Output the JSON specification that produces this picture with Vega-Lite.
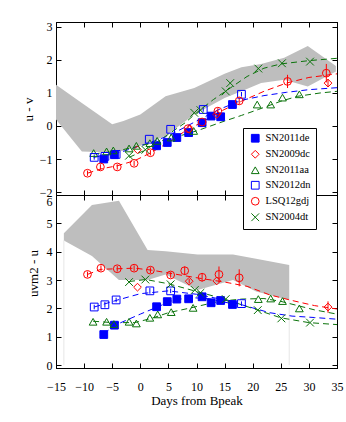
{
  "$schema": "https://vega.github.io/schema/vega-lite/v6.json",
  "autosize": {"type": "pad"},
  "padding": {"left": 21, "top": 20, "right": 10, "bottom": 5},
  "background": "white",
  "spacing": 0,
  "bounds": "flush",
  "config": {
    "font": "Liberation Serif, Times New Roman, serif",
    "view": {"stroke": "black", "strokeWidth": 1},
    "axis": {
      "grid": false, "labelFont": "Liberation Serif, Times New Roman, serif", "titleFont": "Liberation Serif, Times New Roman, serif",
      "labelFontSize": 12, "titleFontSize": 13, "titleFontWeight": "normal",
      "labelColor": "black", "titleColor": "black", "domainColor": "black", "tickColor": "black",
      "tickSize": -5, "labelOverlap": false, "labelFlush": false, "labelBound": false
    },
    "legend": {"labelFont": "Liberation Serif, Times New Roman, serif"}
  },
  "resolve": {"scale": {"x": "independent", "y": "independent", "color": "shared", "shape": "shared", "fill": "shared", "stroke": "shared"}},
  "datasets": {
    "band": [
      {"p": "t", "x": -15, "lo": 0.2, "hi": 1.25},
      {"p": "t", "x": -10.4, "lo": -0.77, "hi": 0.7},
      {"p": "t", "x": -5, "lo": -0.8, "hi": 0.05},
      {"p": "t", "x": -3, "lo": -0.75, "hi": 0.15},
      {"p": "t", "x": 0, "lo": -0.6, "hi": 0.35},
      {"p": "t", "x": 4.5, "lo": -0.3, "hi": 0.9},
      {"p": "t", "x": 9.6, "lo": 0.35, "hi": 1.15},
      {"p": "t", "x": 15, "lo": 0.85, "hi": 1.58},
      {"p": "t", "x": 18, "lo": 1.05, "hi": 1.78},
      {"p": "t", "x": 21.5, "lo": 1.3, "hi": 1.88},
      {"p": "t", "x": 25.6, "lo": 1.4, "hi": 2.07},
      {"p": "t", "x": 29.8, "lo": 1.2, "hi": 2.42},
      {"p": "t", "x": 34.8, "lo": 1.65, "hi": 1.82},
      {"p": "b", "x": -13.6, "lo": 4.4, "hi": 4.65},
      {"p": "b", "x": -8.6, "lo": 3.85, "hi": 5.65},
      {"p": "b", "x": -3.8, "lo": 3.0, "hi": 5.8},
      {"p": "b", "x": 1.3, "lo": 3.0, "hi": 4.06},
      {"p": "b", "x": 4.5, "lo": 3.2, "hi": 4.02},
      {"p": "b", "x": 10.2, "lo": 2.65, "hi": 3.9},
      {"p": "b", "x": 16.5, "lo": 3.0, "hi": 3.9},
      {"p": "b", "x": 20.6, "lo": 2.6, "hi": 3.75},
      {"p": "b", "x": 26.5, "lo": 2.3, "hi": 3.53}
    ],
    "vl": [
      {"p": "b", "x": -13.6, "lo": 0, "hi": 4.4},
      {"p": "b", "x": 26.5, "lo": 0, "hi": 2.3}
    ],
    "fits": [
      {"p": "t", "sn": "LSQ12gdj", "x": -9.4, "y": -1.43},
      {"p": "t", "sn": "LSQ12gdj", "x": -7, "y": -1.3},
      {"p": "t", "sn": "LSQ12gdj", "x": -4, "y": -1.2},
      {"p": "t", "sn": "LSQ12gdj", "x": -1, "y": -1.05},
      {"p": "t", "sn": "LSQ12gdj", "x": 2, "y": -0.8},
      {"p": "t", "sn": "LSQ12gdj", "x": 5, "y": -0.5},
      {"p": "t", "sn": "LSQ12gdj", "x": 8, "y": -0.15},
      {"p": "t", "sn": "LSQ12gdj", "x": 11, "y": 0.12},
      {"p": "t", "sn": "LSQ12gdj", "x": 14, "y": 0.42},
      {"p": "t", "sn": "LSQ12gdj", "x": 18, "y": 0.75},
      {"p": "t", "sn": "LSQ12gdj", "x": 22, "y": 1.05},
      {"p": "t", "sn": "LSQ12gdj", "x": 26, "y": 1.3},
      {"p": "t", "sn": "LSQ12gdj", "x": 30, "y": 1.47},
      {"p": "t", "sn": "LSQ12gdj", "x": 35, "y": 1.58},
      {"p": "t", "sn": "SN2012dn", "x": -8.3, "y": -0.95},
      {"p": "t", "sn": "SN2012dn", "x": -4, "y": -0.82},
      {"p": "t", "sn": "SN2012dn", "x": 0, "y": -0.6},
      {"p": "t", "sn": "SN2012dn", "x": 5, "y": -0.3},
      {"p": "t", "sn": "SN2012dn", "x": 10, "y": 0.15},
      {"p": "t", "sn": "SN2012dn", "x": 14, "y": 0.5},
      {"p": "t", "sn": "SN2012dn", "x": 18, "y": 0.78},
      {"p": "t", "sn": "SN2012dn", "x": 22, "y": 0.92},
      {"p": "t", "sn": "SN2012dn", "x": 26, "y": 1.02},
      {"p": "t", "sn": "SN2012dn", "x": 30, "y": 1.1},
      {"p": "t", "sn": "SN2012dn", "x": 35, "y": 1.16},
      {"p": "t", "sn": "SN2004dt", "x": -2, "y": -0.95},
      {"p": "t", "sn": "SN2004dt", "x": 1, "y": -0.72},
      {"p": "t", "sn": "SN2004dt", "x": 5, "y": -0.25},
      {"p": "t", "sn": "SN2004dt", "x": 8, "y": 0.1},
      {"p": "t", "sn": "SN2004dt", "x": 10, "y": 0.4},
      {"p": "t", "sn": "SN2004dt", "x": 13, "y": 0.8},
      {"p": "t", "sn": "SN2004dt", "x": 16, "y": 1.15},
      {"p": "t", "sn": "SN2004dt", "x": 19, "y": 1.5},
      {"p": "t", "sn": "SN2004dt", "x": 22, "y": 1.75},
      {"p": "t", "sn": "SN2004dt", "x": 25, "y": 1.88},
      {"p": "t", "sn": "SN2004dt", "x": 30, "y": 1.98},
      {"p": "t", "sn": "SN2004dt", "x": 35, "y": 2.05},
      {"p": "t", "sn": "SN2011aa", "x": -8.3, "y": -0.85},
      {"p": "t", "sn": "SN2011aa", "x": -4, "y": -0.75},
      {"p": "t", "sn": "SN2011aa", "x": 0, "y": -0.6},
      {"p": "t", "sn": "SN2011aa", "x": 5, "y": -0.4},
      {"p": "t", "sn": "SN2011aa", "x": 10, "y": -0.15},
      {"p": "t", "sn": "SN2011aa", "x": 15, "y": 0.15},
      {"p": "t", "sn": "SN2011aa", "x": 18, "y": 0.32},
      {"p": "t", "sn": "SN2011aa", "x": 21, "y": 0.5},
      {"p": "t", "sn": "SN2011aa", "x": 25, "y": 0.75},
      {"p": "t", "sn": "SN2011aa", "x": 28, "y": 0.9},
      {"p": "t", "sn": "SN2011aa", "x": 32, "y": 1.0},
      {"p": "t", "sn": "SN2011aa", "x": 35, "y": 1.05},
      {"p": "b", "sn": "LSQ12gdj", "x": -9.4, "y": 3.2},
      {"p": "b", "sn": "LSQ12gdj", "x": -7, "y": 3.38},
      {"p": "b", "sn": "LSQ12gdj", "x": -4, "y": 3.4},
      {"p": "b", "sn": "LSQ12gdj", "x": -1, "y": 3.42},
      {"p": "b", "sn": "LSQ12gdj", "x": 2, "y": 3.35},
      {"p": "b", "sn": "LSQ12gdj", "x": 5, "y": 3.25},
      {"p": "b", "sn": "LSQ12gdj", "x": 8, "y": 3.15},
      {"p": "b", "sn": "LSQ12gdj", "x": 11, "y": 3.05},
      {"p": "b", "sn": "LSQ12gdj", "x": 15, "y": 2.93},
      {"p": "b", "sn": "LSQ12gdj", "x": 19, "y": 2.78},
      {"p": "b", "sn": "LSQ12gdj", "x": 23, "y": 2.48},
      {"p": "b", "sn": "LSQ12gdj", "x": 27, "y": 2.28},
      {"p": "b", "sn": "LSQ12gdj", "x": 31, "y": 2.1},
      {"p": "b", "sn": "LSQ12gdj", "x": 35, "y": 1.98},
      {"p": "b", "sn": "SN2012dn", "x": -8.2, "y": 2.05},
      {"p": "b", "sn": "SN2012dn", "x": -4, "y": 2.3},
      {"p": "b", "sn": "SN2012dn", "x": 0, "y": 2.52},
      {"p": "b", "sn": "SN2012dn", "x": 5, "y": 2.62},
      {"p": "b", "sn": "SN2012dn", "x": 10, "y": 2.5},
      {"p": "b", "sn": "SN2012dn", "x": 15, "y": 2.3},
      {"p": "b", "sn": "SN2012dn", "x": 20, "y": 2.02},
      {"p": "b", "sn": "SN2012dn", "x": 23, "y": 1.85},
      {"p": "b", "sn": "SN2012dn", "x": 27, "y": 1.73},
      {"p": "b", "sn": "SN2012dn", "x": 31, "y": 1.68},
      {"p": "b", "sn": "SN2012dn", "x": 35, "y": 1.62},
      {"p": "b", "sn": "SN2011de", "x": -6.5, "y": 1.1},
      {"p": "b", "sn": "SN2011de", "x": -4.6, "y": 1.4},
      {"p": "b", "sn": "SN2011de", "x": 0, "y": 1.8},
      {"p": "b", "sn": "SN2011de", "x": 3, "y": 2.05},
      {"p": "b", "sn": "SN2011de", "x": 6, "y": 2.3},
      {"p": "b", "sn": "SN2011de", "x": 9, "y": 2.38},
      {"p": "b", "sn": "SN2011de", "x": 12, "y": 2.35},
      {"p": "b", "sn": "SN2011de", "x": 15, "y": 2.22},
      {"p": "b", "sn": "SN2011de", "x": 17, "y": 2.15},
      {"p": "b", "sn": "SN2011aa", "x": -8.4, "y": 1.55},
      {"p": "b", "sn": "SN2011aa", "x": -5, "y": 1.5},
      {"p": "b", "sn": "SN2011aa", "x": -1, "y": 1.5},
      {"p": "b", "sn": "SN2011aa", "x": 2, "y": 1.65},
      {"p": "b", "sn": "SN2011aa", "x": 5, "y": 1.85},
      {"p": "b", "sn": "SN2011aa", "x": 9, "y": 2.02},
      {"p": "b", "sn": "SN2011aa", "x": 14, "y": 2.25},
      {"p": "b", "sn": "SN2011aa", "x": 18, "y": 2.33},
      {"p": "b", "sn": "SN2011aa", "x": 22, "y": 2.35},
      {"p": "b", "sn": "SN2011aa", "x": 25, "y": 2.25},
      {"p": "b", "sn": "SN2011aa", "x": 28, "y": 2.1},
      {"p": "b", "sn": "SN2011aa", "x": 31, "y": 1.95},
      {"p": "b", "sn": "SN2011aa", "x": 35, "y": 1.8},
      {"p": "b", "sn": "SN2004dt", "x": -2, "y": 2.95},
      {"p": "b", "sn": "SN2004dt", "x": 1, "y": 3.02},
      {"p": "b", "sn": "SN2004dt", "x": 5, "y": 2.87},
      {"p": "b", "sn": "SN2004dt", "x": 10, "y": 2.6},
      {"p": "b", "sn": "SN2004dt", "x": 15, "y": 2.33},
      {"p": "b", "sn": "SN2004dt", "x": 20, "y": 2.0},
      {"p": "b", "sn": "SN2004dt", "x": 25, "y": 1.67},
      {"p": "b", "sn": "SN2004dt", "x": 30, "y": 1.5},
      {"p": "b", "sn": "SN2004dt", "x": 35, "y": 1.43}
    ],
    "errs": [
      {"p": "t", "sn": "LSQ12gdj", "x": -9.4, "lo": -1.51, "hi": -1.35},
      {"p": "t", "sn": "LSQ12gdj", "x": -7.1, "lo": -1.32, "hi": -1.16},
      {"p": "t", "sn": "LSQ12gdj", "x": -4.1, "lo": -1.32, "hi": -1.16},
      {"p": "t", "sn": "LSQ12gdj", "x": -1.1, "lo": -1.21, "hi": -1.05},
      {"p": "t", "sn": "LSQ12gdj", "x": 1.8, "lo": -0.89, "hi": -0.73},
      {"p": "t", "sn": "LSQ12gdj", "x": 8.5, "lo": -0.16, "hi": 0.0},
      {"p": "t", "sn": "LSQ12gdj", "x": 11, "lo": 0.04, "hi": 0.2},
      {"p": "t", "sn": "LSQ12gdj", "x": 13.8, "lo": 0.36, "hi": 0.54},
      {"p": "t", "sn": "LSQ12gdj", "x": 17.6, "lo": 0.66, "hi": 0.86},
      {"p": "t", "sn": "LSQ12gdj", "x": 26.2, "lo": 1.15, "hi": 1.55},
      {"p": "t", "sn": "LSQ12gdj", "x": 33.1, "lo": 1.32, "hi": 1.88},
      {"p": "t", "sn": "SN2009dc", "x": 33.4, "lo": 1.18, "hi": 1.42},
      {"p": "t", "sn": "SN2012dn", "x": -8.2, "lo": -1.02, "hi": -0.88},
      {"p": "t", "sn": "SN2012dn", "x": 11.2, "lo": 0.43, "hi": 0.57},
      {"p": "t", "sn": "SN2012dn", "x": 18, "lo": 0.89, "hi": 1.03},
      {"p": "b", "sn": "LSQ12gdj", "x": -9.4, "lo": 3.1, "hi": 3.3},
      {"p": "b", "sn": "LSQ12gdj", "x": -7, "lo": 3.32, "hi": 3.52},
      {"p": "b", "sn": "LSQ12gdj", "x": -4.1, "lo": 3.3, "hi": 3.5},
      {"p": "b", "sn": "LSQ12gdj", "x": -1.1, "lo": 3.32, "hi": 3.52},
      {"p": "b", "sn": "LSQ12gdj", "x": 1.8, "lo": 3.25, "hi": 3.45},
      {"p": "b", "sn": "LSQ12gdj", "x": 5.4, "lo": 3.08, "hi": 3.28},
      {"p": "b", "sn": "LSQ12gdj", "x": 7.9, "lo": 3.18, "hi": 3.48},
      {"p": "b", "sn": "LSQ12gdj", "x": 11, "lo": 2.95, "hi": 3.25},
      {"p": "b", "sn": "LSQ12gdj", "x": 14, "lo": 2.92, "hi": 3.48},
      {"p": "b", "sn": "LSQ12gdj", "x": 17.6, "lo": 2.78, "hi": 3.38},
      {"p": "b", "sn": "SN2009dc", "x": 33.4, "lo": 1.85, "hi": 2.25},
      {"p": "b", "sn": "SN2009dc", "x": 8.7, "lo": 2.88, "hi": 3.04},
      {"p": "b", "sn": "SN2012dn", "x": -8.2, "lo": 1.97, "hi": 2.13},
      {"p": "b", "sn": "SN2012dn", "x": -6.3, "lo": 2.03, "hi": 2.23},
      {"p": "b", "sn": "SN2012dn", "x": -4.3, "lo": 2.22, "hi": 2.38},
      {"p": "b", "sn": "SN2012dn", "x": 1.7, "lo": 2.52, "hi": 2.72},
      {"p": "b", "sn": "SN2012dn", "x": 5.4, "lo": 2.54, "hi": 2.7},
      {"p": "b", "sn": "SN2012dn", "x": 18, "lo": 2.09, "hi": 2.25}
    ],
    "pts": [
      {"p": "t", "sn": "SN2011de", "x": -6.5, "y": -1.0},
      {"p": "t", "sn": "SN2011de", "x": -4.6, "y": -0.87},
      {"p": "t", "sn": "SN2011de", "x": 2.9, "y": -0.6},
      {"p": "t", "sn": "SN2011de", "x": 4.8, "y": -0.5},
      {"p": "t", "sn": "SN2011de", "x": 6.5, "y": -0.35},
      {"p": "t", "sn": "SN2011de", "x": 8.6, "y": -0.2},
      {"p": "t", "sn": "SN2011de", "x": 11, "y": 0.1},
      {"p": "t", "sn": "SN2011de", "x": 12.6, "y": 0.3},
      {"p": "t", "sn": "SN2011de", "x": 14.3, "y": 0.28},
      {"p": "t", "sn": "SN2011de", "x": 16.4, "y": 0.65},
      {"p": "t", "sn": "SN2009dc", "x": -0.5, "y": -0.72},
      {"p": "t", "sn": "SN2009dc", "x": 8.7, "y": -0.1},
      {"p": "t", "sn": "SN2009dc", "x": 13.6, "y": 0.35},
      {"p": "t", "sn": "SN2009dc", "x": 33.4, "y": 1.3},
      {"p": "t", "sn": "SN2011aa", "x": -8.3, "y": -0.82},
      {"p": "t", "sn": "SN2011aa", "x": -6, "y": -0.77},
      {"p": "t", "sn": "SN2011aa", "x": -4.8, "y": -0.74},
      {"p": "t", "sn": "SN2011aa", "x": -2, "y": -0.68},
      {"p": "t", "sn": "SN2011aa", "x": -0.7, "y": -0.6},
      {"p": "t", "sn": "SN2011aa", "x": 1.7, "y": -0.52},
      {"p": "t", "sn": "SN2011aa", "x": 3, "y": -0.45},
      {"p": "t", "sn": "SN2011aa", "x": 5.5, "y": -0.35},
      {"p": "t", "sn": "SN2011aa", "x": 9.5, "y": -0.15},
      {"p": "t", "sn": "SN2011aa", "x": 20.8, "y": 0.65},
      {"p": "t", "sn": "SN2011aa", "x": 23.2, "y": 0.65},
      {"p": "t", "sn": "SN2011aa", "x": 25.3, "y": 0.86},
      {"p": "t", "sn": "SN2011aa", "x": 28.3, "y": 0.96},
      {"p": "t", "sn": "SN2012dn", "x": -8.2, "y": -0.95},
      {"p": "t", "sn": "SN2012dn", "x": -6.3, "y": -0.92},
      {"p": "t", "sn": "SN2012dn", "x": -4.3, "y": -0.86},
      {"p": "t", "sn": "SN2012dn", "x": 1.6, "y": -0.4},
      {"p": "t", "sn": "SN2012dn", "x": 5.4, "y": -0.1},
      {"p": "t", "sn": "SN2012dn", "x": 11.2, "y": 0.5},
      {"p": "t", "sn": "SN2012dn", "x": 18, "y": 0.96},
      {"p": "t", "sn": "LSQ12gdj", "x": -9.4, "y": -1.43},
      {"p": "t", "sn": "LSQ12gdj", "x": -7.1, "y": -1.24},
      {"p": "t", "sn": "LSQ12gdj", "x": -4.1, "y": -1.24},
      {"p": "t", "sn": "LSQ12gdj", "x": -1.1, "y": -1.13},
      {"p": "t", "sn": "LSQ12gdj", "x": 1.8, "y": -0.81},
      {"p": "t", "sn": "LSQ12gdj", "x": 8.5, "y": -0.08},
      {"p": "t", "sn": "LSQ12gdj", "x": 11, "y": 0.12},
      {"p": "t", "sn": "LSQ12gdj", "x": 13.8, "y": 0.45},
      {"p": "t", "sn": "LSQ12gdj", "x": 17.6, "y": 0.76},
      {"p": "t", "sn": "LSQ12gdj", "x": 26.2, "y": 1.35},
      {"p": "t", "sn": "LSQ12gdj", "x": 33.1, "y": 1.6},
      {"p": "t", "sn": "SN2004dt", "x": -2, "y": -0.9},
      {"p": "t", "sn": "SN2004dt", "x": 0.9, "y": -0.72},
      {"p": "t", "sn": "SN2004dt", "x": 9.6, "y": 0.4},
      {"p": "t", "sn": "SN2004dt", "x": 10.7, "y": 0.48},
      {"p": "t", "sn": "SN2004dt", "x": 15.2, "y": 1.05},
      {"p": "t", "sn": "SN2004dt", "x": 16, "y": 1.3},
      {"p": "t", "sn": "SN2004dt", "x": 21, "y": 1.74},
      {"p": "t", "sn": "SN2004dt", "x": 25.2, "y": 1.9},
      {"p": "t", "sn": "SN2004dt", "x": 30.2, "y": 1.95},
      {"p": "b", "sn": "SN2011de", "x": -6.5, "y": 1.08},
      {"p": "b", "sn": "SN2011de", "x": -4.6, "y": 1.41},
      {"p": "b", "sn": "SN2011de", "x": 2.9, "y": 2.06},
      {"p": "b", "sn": "SN2011de", "x": 4.8, "y": 2.24},
      {"p": "b", "sn": "SN2011de", "x": 6.5, "y": 2.33},
      {"p": "b", "sn": "SN2011de", "x": 8.6, "y": 2.34},
      {"p": "b", "sn": "SN2011de", "x": 11, "y": 2.41},
      {"p": "b", "sn": "SN2011de", "x": 12.6, "y": 2.2},
      {"p": "b", "sn": "SN2011de", "x": 14.3, "y": 2.28},
      {"p": "b", "sn": "SN2011de", "x": 16.4, "y": 2.14},
      {"p": "b", "sn": "SN2009dc", "x": -0.5, "y": 2.75},
      {"p": "b", "sn": "SN2009dc", "x": 8.7, "y": 2.96},
      {"p": "b", "sn": "SN2009dc", "x": 13.6, "y": 2.97},
      {"p": "b", "sn": "SN2009dc", "x": 33.4, "y": 2.05},
      {"p": "b", "sn": "SN2011aa", "x": -8.4, "y": 1.53},
      {"p": "b", "sn": "SN2011aa", "x": -6, "y": 1.53},
      {"p": "b", "sn": "SN2011aa", "x": -4.7, "y": 1.45},
      {"p": "b", "sn": "SN2011aa", "x": -2, "y": 1.53},
      {"p": "b", "sn": "SN2011aa", "x": -0.7, "y": 1.47},
      {"p": "b", "sn": "SN2011aa", "x": 1.7, "y": 1.67},
      {"p": "b", "sn": "SN2011aa", "x": 3.1, "y": 1.79},
      {"p": "b", "sn": "SN2011aa", "x": 5.5, "y": 1.87},
      {"p": "b", "sn": "SN2011aa", "x": 9.4, "y": 2.02},
      {"p": "b", "sn": "SN2011aa", "x": 21, "y": 2.33},
      {"p": "b", "sn": "SN2011aa", "x": 23.2, "y": 2.35},
      {"p": "b", "sn": "SN2011aa", "x": 25.3, "y": 2.26},
      {"p": "b", "sn": "SN2011aa", "x": 28.3, "y": 2.0},
      {"p": "b", "sn": "SN2012dn", "x": -8.2, "y": 2.05},
      {"p": "b", "sn": "SN2012dn", "x": -6.3, "y": 2.13},
      {"p": "b", "sn": "SN2012dn", "x": -4.3, "y": 2.3},
      {"p": "b", "sn": "SN2012dn", "x": 1.7, "y": 2.62},
      {"p": "b", "sn": "SN2012dn", "x": 5.4, "y": 2.62},
      {"p": "b", "sn": "SN2012dn", "x": 18, "y": 2.17},
      {"p": "b", "sn": "LSQ12gdj", "x": -9.4, "y": 3.2},
      {"p": "b", "sn": "LSQ12gdj", "x": -7, "y": 3.42},
      {"p": "b", "sn": "LSQ12gdj", "x": -4.1, "y": 3.4},
      {"p": "b", "sn": "LSQ12gdj", "x": -1.1, "y": 3.42},
      {"p": "b", "sn": "LSQ12gdj", "x": 1.8, "y": 3.35},
      {"p": "b", "sn": "LSQ12gdj", "x": 5.4, "y": 3.18},
      {"p": "b", "sn": "LSQ12gdj", "x": 7.9, "y": 3.33},
      {"p": "b", "sn": "LSQ12gdj", "x": 11, "y": 3.1},
      {"p": "b", "sn": "LSQ12gdj", "x": 14, "y": 3.2},
      {"p": "b", "sn": "LSQ12gdj", "x": 17.6, "y": 3.08},
      {"p": "b", "sn": "SN2004dt", "x": -2, "y": 2.93},
      {"p": "b", "sn": "SN2004dt", "x": 0.9, "y": 3.02},
      {"p": "b", "sn": "SN2004dt", "x": 5.4, "y": 2.85},
      {"p": "b", "sn": "SN2004dt", "x": 9.7, "y": 2.65},
      {"p": "b", "sn": "SN2004dt", "x": 10.7, "y": 2.55},
      {"p": "b", "sn": "SN2004dt", "x": 15.2, "y": 2.33},
      {"p": "b", "sn": "SN2004dt", "x": 20.9, "y": 1.94},
      {"p": "b", "sn": "SN2004dt", "x": 25.1, "y": 1.65},
      {"p": "b", "sn": "SN2004dt", "x": 30.2, "y": 1.5}
    ]
  },
  "vconcat": [
    {
      "width": 281, "height": 173,
      "resolve": {"axis": {"x": "independent", "y": "independent"}},
      "layer": [
        {
          "data": {"name": "band"},
          "transform": [{"filter": "datum.p == 't'"}],
          "mark": {"type": "area", "color": "#bebebe"},
          "encoding": {
            "x": {"field": "x", "type": "quantitative", "scale": {"domain": [-15, 35], "nice": false, "zero": false},
                  "axis": {"orient": "bottom", "labels": false, "title": null, "values": [-15,-10,-5,0,5,10,15,20,25,30,35]}},
            "y": {"field": "lo", "type": "quantitative", "scale": {"domain": [-2.09, 3.15], "nice": false, "zero": false},
                  "axis": {"orient": "left", "title": "u - v", "values": [-2,-1,0,1,2,3], "labelPadding": 9, "titleX": -21, "titleY": 87, "labelOverlap": false}},
            "y2": {"field": "hi"}
          }
        },
        {
          "data": {"name": "fits"},
          "transform": [{"filter": "datum.p == 't'"}],
          "mark": {"type": "line", "strokeDash": [6, 4], "strokeWidth": 1},
          "encoding": {
            "x": {"field": "x", "type": "quantitative", "axis": {"orient": "top", "labels": false, "title": null, "values": [-15,-10,-5,0,5,10,15,20,25,30,35]}},
            "y": {"field": "y", "type": "quantitative", "axis": {"orient": "right", "labels": false, "title": null, "values": [-2,-1,0,1,2,3]}},
            "stroke": {"field": "sn", "type": "nominal", "legend": null,
              "scale": {"domain": ["LSQ12gdj","SN2009dc","SN2004dt","SN2011aa","SN2011de","SN2012dn"], "range": ["#ff0000","#ff0000","#0b730b","#0b730b","#0000ff","#0000ff"]}},
            "detail": {"field": "sn"}
          }
        },
        {
          "data": {"name": "errs"},
          "transform": [{"filter": "datum.p == 't'"}],
          "mark": {"type": "rule", "strokeWidth": 1},
          "encoding": {
            "x": {"field": "x", "type": "quantitative", "axis": null},
            "y": {"field": "lo", "type": "quantitative", "axis": null},
            "y2": {"field": "hi"},
            "stroke": {"field": "sn", "type": "nominal", "legend": null}
          }
        },
        {
          "data": {"name": "pts"},
          "transform": [{"filter": "datum.p == 't'"}],
          "mark": {"type": "point", "filled": false, "size": 60, "strokeWidth": 1, "opacity": 1},
          "encoding": {
            "x": {"field": "x", "type": "quantitative", "axis": null},
            "y": {"field": "y", "type": "quantitative", "axis": null},
            "color": {"field": "sn", "type": "nominal",
              "scale": {"domain": ["SN2011de","SN2009dc","SN2011aa","SN2012dn","LSQ12gdj","SN2004dt"], "range": ["#0000ff","#ff0000","#0b730b","#0000ff","#ff0000","#0b730b"]},
              "legend": {"title": null, "orient": "none", "legendX": 187, "legendY": 106, "strokeColor": "black", "fillColor": "white", "padding": 5, "labelFontSize": 10.5, "labelColor": "black", "rowPadding": 3, "symbolSize": 60, "symbolStrokeWidth": 1, "symbolOffset": 2, "labelOffset": 5}},
            "shape": {"field": "sn", "type": "nominal",
              "scale": {"domain": ["SN2011de","SN2009dc","SN2011aa","SN2012dn","LSQ12gdj","SN2004dt"], "range": ["square","diamond","triangle-up","square","circle","M-1,-1L1,1M1,-1L-1,1"]},
              "legend": {"title": null, "orient": "none", "legendX": 187, "legendY": 106, "strokeColor": "black", "fillColor": "white", "padding": 5, "labelFontSize": 10.5, "labelColor": "black", "rowPadding": 3, "symbolSize": 60, "symbolStrokeWidth": 1, "symbolOffset": 2, "labelOffset": 5}},
            "fill": {"field": "sn", "type": "nominal",
              "scale": {"domain": ["SN2011de","SN2009dc","SN2011aa","SN2012dn","LSQ12gdj","SN2004dt"], "range": ["#0000ff","transparent","transparent","transparent","transparent","transparent"]},
              "legend": {"title": null, "orient": "none", "legendX": 187, "legendY": 106, "strokeColor": "black", "fillColor": "white", "padding": 5, "labelFontSize": 10.5, "labelColor": "black", "rowPadding": 3, "symbolSize": 60, "symbolStrokeWidth": 1, "symbolOffset": 2, "labelOffset": 5}}
          }
        }
      ]
    },
    {
      "width": 281, "height": 173,
      "resolve": {"axis": {"x": "independent", "y": "independent"}},
      "layer": [
        {
          "data": {"name": "band"},
          "transform": [{"filter": "datum.p == 'b'"}],
          "mark": {"type": "area", "color": "#bebebe"},
          "encoding": {
            "x": {"field": "x", "type": "quantitative", "scale": {"domain": [-15, 35], "nice": false, "zero": false},
                  "axis": {"orient": "bottom", "title": "Days from Bpeak", "values": [-15,-10,-5,0,5,10,15,20,25,30,35], "labelPadding": 18, "titlePadding": 2}},
            "y": {"field": "lo", "type": "quantitative", "scale": {"domain": [-0.1, 6], "nice": false, "zero": false},
                  "axis": {"orient": "left", "title": "uvm2 - u", "values": [0,1,2,3,4,5,6], "labelPadding": 9, "titleX": -16, "titleY": 78, "labelFlush": 1, "labelFlushOffset": -1}},
            "y2": {"field": "hi"}
          }
        },
        {
          "data": {"name": "vl"},
          "mark": {"type": "rule", "color": "#e6e6e6", "strokeWidth": 1},
          "encoding": {
            "x": {"field": "x", "type": "quantitative", "axis": null},
            "y": {"field": "lo", "type": "quantitative", "axis": null},
            "y2": {"field": "hi"}
          }
        },
        {
          "data": {"name": "fits"},
          "transform": [{"filter": "datum.p == 'b'"}],
          "mark": {"type": "line", "strokeDash": [6, 4], "strokeWidth": 1},
          "encoding": {
            "x": {"field": "x", "type": "quantitative", "axis": {"orient": "top", "labels": false, "title": null, "values": [-15,-10,-5,0,5,10,15,20,25,30,35]}},
            "y": {"field": "y", "type": "quantitative", "axis": {"orient": "right", "labels": false, "title": null, "values": [0,1,2,3,4,5,6]}},
            "stroke": {"field": "sn", "type": "nominal", "legend": null},
            "detail": {"field": "sn"}
          }
        },
        {
          "data": {"name": "errs"},
          "transform": [{"filter": "datum.p == 'b'"}],
          "mark": {"type": "rule", "strokeWidth": 1},
          "encoding": {
            "x": {"field": "x", "type": "quantitative", "axis": null},
            "y": {"field": "lo", "type": "quantitative", "axis": null},
            "y2": {"field": "hi"},
            "stroke": {"field": "sn", "type": "nominal", "legend": null}
          }
        },
        {
          "data": {"name": "pts"},
          "transform": [{"filter": "datum.p == 'b'"}],
          "mark": {"type": "point", "filled": false, "size": 60, "strokeWidth": 1, "opacity": 1},
          "encoding": {
            "x": {"field": "x", "type": "quantitative", "axis": null},
            "y": {"field": "y", "type": "quantitative", "axis": null},
            "color": {"field": "sn", "type": "nominal", "legend": {"title": null, "orient": "none", "legendX": 187, "legendY": 106, "strokeColor": "black", "fillColor": "white", "padding": 5, "labelFontSize": 10.5, "labelColor": "black", "rowPadding": 3, "symbolSize": 60, "symbolStrokeWidth": 1, "symbolOffset": 2, "labelOffset": 5}},
            "shape": {"field": "sn", "type": "nominal", "legend": {"title": null, "orient": "none", "legendX": 187, "legendY": 106, "strokeColor": "black", "fillColor": "white", "padding": 5, "labelFontSize": 10.5, "labelColor": "black", "rowPadding": 3, "symbolSize": 60, "symbolStrokeWidth": 1, "symbolOffset": 2, "labelOffset": 5}},
            "fill": {"field": "sn", "type": "nominal", "legend": {"title": null, "orient": "none", "legendX": 187, "legendY": 106, "strokeColor": "black", "fillColor": "white", "padding": 5, "labelFontSize": 10.5, "labelColor": "black", "rowPadding": 3, "symbolSize": 60, "symbolStrokeWidth": 1, "symbolOffset": 2, "labelOffset": 5}}
          }
        }
      ]
    }
  ]
}
